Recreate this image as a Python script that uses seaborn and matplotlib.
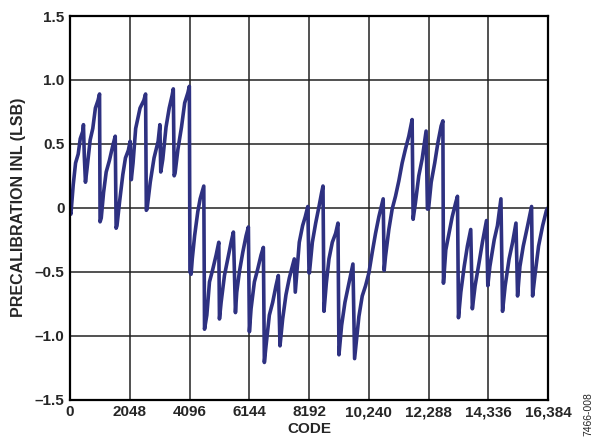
"""
plot.py
Precalibration INL vs code, redrawn with seaborn.
"""
import matplotlib
matplotlib.use('Agg')
import matplotlib.pyplot as plt
import seaborn as sns
import pandas as pd

# Vertices (code, INL in LSB)
code = [
    0, 30, 110, 190, 280, 350, 440, 460, 490, 529, 580, 690, 780, 870, 960, 1012, 1030,
    1070, 1150, 1240, 1350, 1470, 1550, 1580,
    1610, 1700, 1810, 1900, 2000, 2060, 2100, 2160, 2250, 2400, 2530, 2590, 2615,
    2640, 2750, 2880, 3020, 3080, 3110, 3180, 3290, 3400, 3500, 3540, 3570,
    3600, 3700, 3820, 3930, 4040, 4090, 4110,
    4150, 4190, 4270, 4380, 4460, 4560, 4585, 4610,
    4689, 4780, 4894, 5008, 5099, 5122,
    5179, 5293, 5407, 5521, 5600, 5670,
    5715, 5806, 5920, 6034, 6114, 6148,
    6205, 6319, 6433, 6547, 6627, 6661,
    6718, 6832, 6946, 7060, 7140, 7197,
    7288, 7402, 7516, 7630, 7687, 7721,
    7858, 7972, 8063, 8150, 8192,
    8205, 8306, 8420, 8534, 8625, 8671, 8705,
    8785, 8876, 8990, 9104, 9184, 9218,
    9309, 9423, 9560, 9697, 9754,
    9811, 9902, 10016, 10130, 10244, 10358, 10472, 10586, 10734, 10768,
    10814, 10928, 11042, 11156, 11270, 11384, 11498, 11612, 11726, 11760,
    11840, 11954, 12068, 12205, 12250,
    12288, 12380, 12500, 12610, 12720, 12780, 12800,
    12880, 12990, 13100, 13220, 13280, 13315,
    13395, 13510, 13620, 13735, 13790,
    13885, 14020, 14135, 14275, 14320,
    14390, 14540, 14650, 14770, 14825,
    14915, 15050, 15170, 15285, 15340,
    15420, 15535, 15685, 15820, 15855,
    15945, 16060, 16200, 16330, 16384,
]
inl = [
    -0.03, -0.05, 0.18, 0.35, 0.42, 0.54, 0.60, 0.65, 0.40, 0.20, 0.30, 0.53, 0.62, 0.78, 0.84, 0.89, -0.11,
    -0.08, 0.12, 0.28, 0.37, 0.49, 0.56, -0.16,
    -0.14, 0.05, 0.26, 0.39, 0.45, 0.52, 0.22, 0.35, 0.62, 0.78, 0.84, 0.89, -0.02,
    -0.01, 0.20, 0.39, 0.52, 0.65, 0.28, 0.38, 0.63, 0.78, 0.88, 0.93, 0.25,
    0.27, 0.46, 0.63, 0.82, 0.90, 0.95, -0.50,
    -0.52, -0.40, -0.22, -0.03, 0.07, 0.15, 0.17, -0.95,
    -0.84, -0.58, -0.48, -0.37, -0.27, -0.87,
    -0.74, -0.53, -0.40, -0.27, -0.19, -0.82,
    -0.66, -0.50, -0.35, -0.22, -0.15, -0.97,
    -0.79, -0.58, -0.48, -0.37, -0.31, -1.21,
    -1.08, -0.84, -0.74, -0.61, -0.53, -1.08,
    -0.87, -0.68, -0.55, -0.45, -0.40, -0.66,
    -0.27, -0.14, -0.07, 0.01, -0.51,
    -0.51, -0.27, -0.12, 0.01, 0.12, 0.17, -0.81,
    -0.59, -0.40, -0.27, -0.20, -0.12, -1.15,
    -0.92, -0.74, -0.59, -0.44, -1.18,
    -1.05, -0.85, -0.69, -0.61, -0.51, -0.35, -0.20, -0.07, 0.07, -0.49,
    -0.38, -0.17, -0.01, 0.09, 0.21, 0.35, 0.46, 0.56, 0.69, -0.09,
    0.04, 0.25, 0.38, 0.60, -0.01,
    -0.01, 0.20, 0.35, 0.51, 0.64, 0.68, -0.59,
    -0.33, -0.20, -0.07, 0.04, 0.09, -0.86,
    -0.66, -0.46, -0.30, -0.17, -0.79,
    -0.61, -0.43, -0.27, -0.10, -0.61,
    -0.46, -0.25, -0.14, 0.07, -0.81,
    -0.61, -0.40, -0.27, -0.12, -0.69,
    -0.46, -0.30, -0.14, 0.01, -0.69,
    -0.51, -0.30, -0.14, -0.02, 0.00,
]

x_ticks = [0, 2048, 4096, 6144, 8192, 10240, 12288, 14336, 16384]
x_tick_labels = ['0', '2048', '4096', '6144', '8192', '10,240', '12,288', '14,336', '16,384']
y_ticks = [-1.5, -1.0, -0.5, 0, 0.5, 1.0, 1.5]
y_tick_labels = ['\u20131.5', '\u20131.0', '\u20130.5', '0', '0.5', '1.0', '1.5']

df = pd.DataFrame({'code': code, 'inl': inl})

sns.set_theme(style='white')
plt.rcParams['font.family'] = ['Liberation Sans', 'DejaVu Sans']

fig = plt.figure(figsize=(5.99, 4.45), dpi=100)
ax = fig.add_axes([0.1169, 0.1022, 0.798, 0.8618])

sns.lineplot(data=df, x='code', y='inl', ax=ax, estimator=None, sort=False,
             color='#2E3181', linewidth=2.6)

ax.set_xlim(0, 16384)
ax.set_ylim(-1.5, 1.5)
ax.set_xticks(x_ticks)
ax.set_xticklabels(x_tick_labels)
ax.set_yticks(y_ticks)
ax.set_yticklabels(y_tick_labels)
ax.grid(True, color='#222222', linewidth=1.1)
ax.set_axisbelow(True)
ax.tick_params(length=0, pad=4, labelsize=11)
for lab in ax.get_xticklabels() + ax.get_yticklabels():
    lab.set_fontweight('bold')
for sp in ax.spines.values():
    sp.set_color('black')
    sp.set_linewidth(1.6)

ax.set_xlabel('CODE', fontsize=11, fontweight='bold', labelpad=2)
ax.set_ylabel('PRECALIBRATION INL (LSB)', fontsize=11.5, fontweight='bold', labelpad=6)

fig.text(0.983, 0.07, '7466-008', rotation=90, fontsize=7.5, ha='center', va='center')

fig.savefig('out.png', dpi=100)
